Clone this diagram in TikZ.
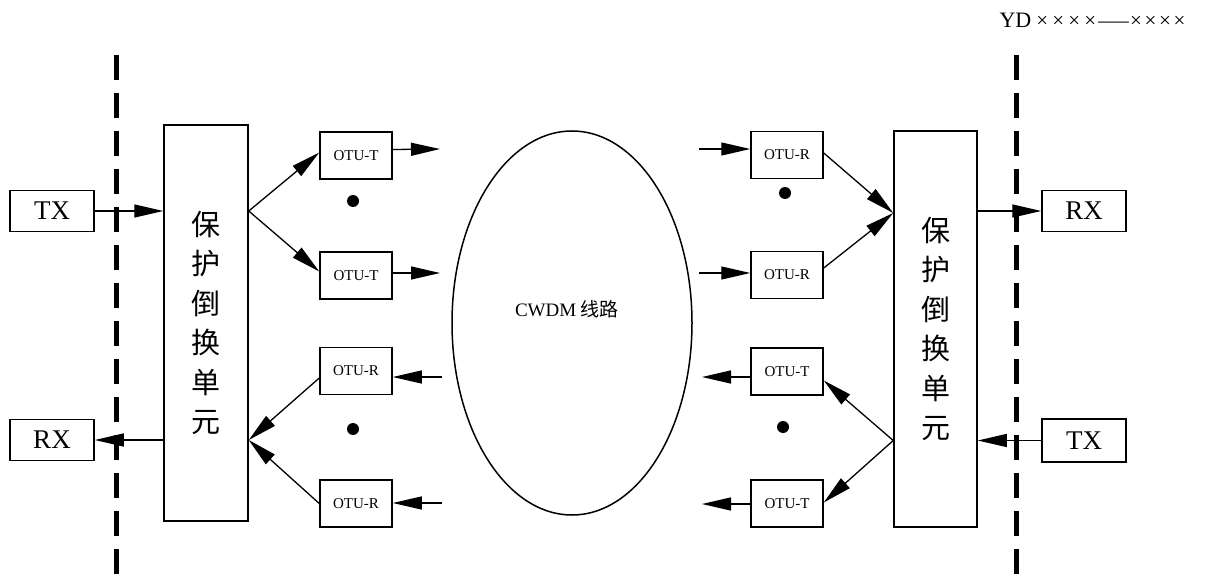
\documentclass[tikz,border=0pt]{standalone}
\usepackage{fontspec}
\setmainfont{Liberation Serif}
\newfontfamily\cjk{Noto Sans CJK SC}
\usetikzlibrary{arrows.meta,shapes.geometric}

\newcommand{\crossx}[1]{\makebox[#1]{×}}

\tikzset{
  box/.style={draw, line width=1.5pt, inner sep=0pt, font=\fontsize{27}{30}\selectfont},
  otu/.style={box, minimum width=72pt, minimum height=47pt, font=\fontsize{15}{17}\selectfont},
  endbox/.style={box, minimum width=84pt, minimum height=41pt},
  protbox/.style={box, minimum width=84pt, minimum height=396pt, align=center,
    font=\cjk\fontsize{29}{39.4}\selectfont},
  arr/.style={line width=1.3pt, -{Triangle[length=29pt,width=13pt]}},
  border/.style={line width=5pt, dash pattern=on 25pt off 13pt},
  dot/.style={circle, fill, inner sep=0pt, minimum size=12pt},
}

\begin{document}
\begin{tikzpicture}[x=1pt,y=-1pt]
\useasboundingbox (0,0) rectangle (1208,583);

% station borders
\draw[border] (116,55) -- (116,583);
\draw[border] (1016,55) -- (1016,583);

% header
\node[anchor=east, inner sep=0pt, font=\fontsize{22}{24}\selectfont] (hdr) at (1187,20)
  {YD\hspace{3pt}{\fontsize{21}{24}\selectfont\crossx{16pt}\crossx{16pt}\crossx{16pt}\crossx{16pt}\scalebox{1.45}[1]{—}\crossx{14.5pt}\crossx{14.5pt}\crossx{14.5pt}\crossx{14.5pt}}};

% left terminal
\node[endbox] (txL) at (52,211) {TX};
\node[endbox] (rxL) at (52,440) {RX};
\node[protbox] (pL) at (206,323) {保\\护\\倒\\换\\单\\元};
\node[otu] (otL1) at (356,155.5) {OTU-T};
\node[otu] (otL2) at (356,275.5) {OTU-T};
\node[otu] (orL1) at (356,371) {OTU-R};
\node[otu] (orL2) at (356,503.5) {OTU-R};
\node[dot] (dL1) at (353,201) {};
\node[dot] (dL2) at (353,429) {};

% line section
\node[draw, ellipse, line width=1.5pt, minimum width=240pt, minimum height=384pt, inner sep=0pt] (cwdm) at (572,323) {};
\node[font=\fontsize{19}{21}\selectfont] (cwdmlbl) at (567,309) {CWDM {\cjk 线路}};

% right terminal
\node[otu] (orR1) at (787,155) {OTU-R};
\node[otu] (orR2) at (787,275) {OTU-R};
\node[otu] (otR1) at (787,371.5) {OTU-T};
\node[otu] (otR2) at (787,503.5) {OTU-T};
\node[dot] (dR1) at (785,193) {};
\node[dot] (dR2) at (783,427) {};
\node[protbox, minimum width=83pt] (pR) at (935.5,329) {保\\护\\倒\\换\\单\\元};
\node[endbox] (rxR) at (1084,211) {RX};
\node[endbox, minimum height=43pt] (txR) at (1084,440.5) {TX};

% free ends of the line-side arrows
\coordinate (aL1) at (440,149);
\coordinate (aL2) at (440,273);
\coordinate (bL1) at (442,377);
\coordinate (bL2) at (442,503);
\coordinate (aR1) at (699,149);
\coordinate (aR2) at (699,273);
\coordinate (bR1) at (702,377);
\coordinate (bR2) at (702,504);

% left terminal connectors
\draw[arr] (txL.east) -- (txL.east -| pL.west);
\draw[arr] (pL.west |- rxL.east) -- (rxL.east);
\coordinate (fL) at (pL.east |- txL.east);
\draw[arr] (fL) -- ([yshift=3pt]otL1.west);
\draw[arr] (fL) -- ([yshift=4pt]otL2.west);
\coordinate (gL) at (pL.east |- rxL.east);
\draw[arr] ([yshift=-7pt]orL1.west) -- (gL);
\draw[arr] (orL2.west) -- (gL);
\draw[arr] ([yshift=6pt]otL1.east) -- (aL1);
\draw[arr] ([yshift=2.5pt]otL2.east) -- (aL2);
\draw[arr] (bL1) -- (orL1.east |- bL1);
\draw[arr] (bL2) -- (orL2.east |- bL2);

% right terminal connectors
\draw[arr] (aR1) -- (orR1.west |- aR1);
\draw[arr] (aR2) -- (orR2.west |- aR2);
\coordinate (fR) at (pR.west |- 0,213);
\draw[arr] ([yshift=2pt]orR1.east) -- (fR);
\draw[arr] ([yshift=7pt]orR2.east) -- (fR);
\draw[arr] (pR.east |- rxR.west) -- (rxR.west);
\draw[arr] (txR.west) -- (pR.east |- txR.west);
\coordinate (gR) at (pR.west |- txR.west);
\draw[arr] (gR) -- ([yshift=-9pt]otR1.east);
\draw[arr] (gR) -- ([yshift=1pt]otR2.east);
\draw[arr] ([yshift=-5.5pt]otR1.west) -- (bR1);
\draw[arr] (otR2.west |- bR2) -- (bR2);
\end{tikzpicture}
\end{document}
